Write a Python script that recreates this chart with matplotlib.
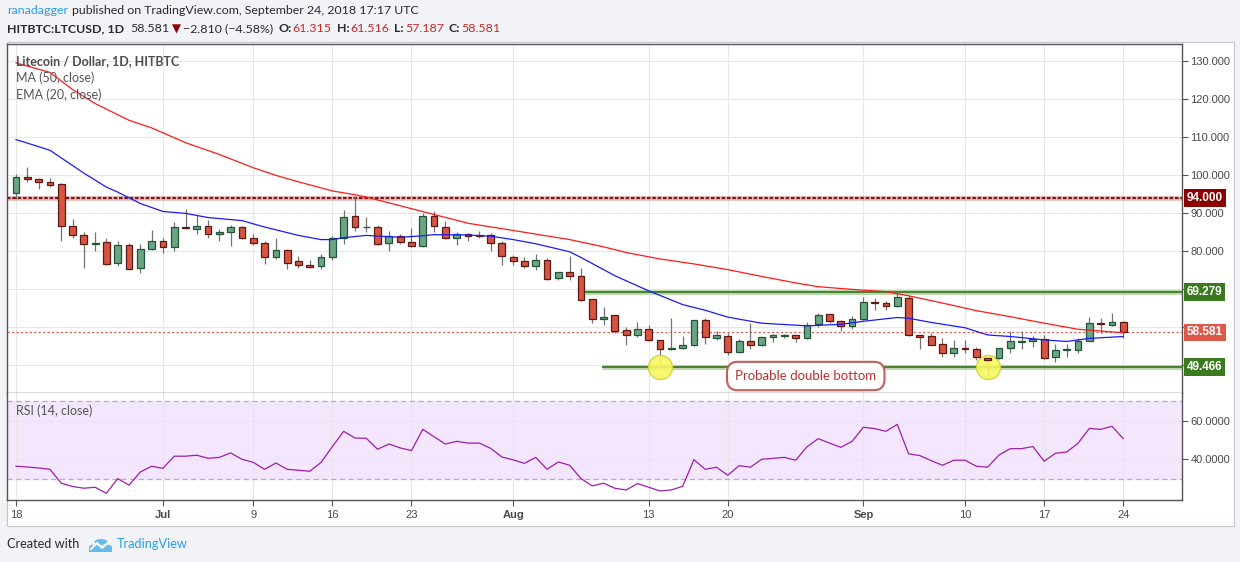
import matplotlib
matplotlib.use('Agg')
import matplotlib.pyplot as plt
from matplotlib.patches import Rectangle, Circle
import numpy as np
import pandas as pd

# HITBTC:LTCUSD daily candles, 18 Jun - 24 Sep 2018
start_date = '2018-06-18'
opens = [95.3, 99.5, 98.9, 98.2, 97.7, 86.6, 84.2, 81.8, 82.4, 76.8,
         81.6, 75.5, 80.5, 82.7, 81.0, 86.3, 85.8, 86.6, 84.5, 85.1,
         86.3, 83.4, 82.1, 78.4, 80.3, 77.4, 76.3, 76.05, 78.4, 83.4,
         89.3, 86.2, 86.3, 82.1, 83.9, 82.4, 81.3, 89.2, 86.3, 83.4,
         84.5, 84.2, 84.2, 82.1, 78.4, 77.4, 76.05, 77.6, 72.9, 74.5,
         73.4, 67.3, 62.0, 63.1, 59.1, 57.8, 59.4, 56.5, 54.1, 54.4,
         55.2, 61.75, 57.0, 57.5, 53.3, 56.2, 55.2, 57.3, 57.5, 57.8,
         57.0, 60.7, 63.3, 61.5, 60.2, 62.0, 66.6, 66.3, 65.4, 67.5,
         57.8, 57.5, 55.5, 53.1, 54.6, 54.1, 51.8, 51.75, 54.4, 56.05,
         56.3, 56.75, 52.0, 53.95, 53.95, 56.4, 61.0, 60.4, 61.315]
highs = [100.3, 102.0, 99.2, 99.3, 97.9, 88.5, 85.1, 85.1, 83.4, 82.5,
         82.1, 81.8, 85.6, 83.3, 87.7, 91.0, 89.5, 88.2, 85.8, 86.8,
         86.5, 84.5, 82.5, 83.4, 80.5, 78.7, 77.5, 79.3, 84.0, 90.9,
         94.3, 89.0, 86.9, 85.2, 84.6, 86.1, 90.0, 90.5, 88.0, 85.1,
         84.8, 85.3, 84.7, 82.5, 79.0, 78.5, 79.2, 78.2, 74.6, 78.7,
         75.6, 67.4, 65.3, 63.2, 59.9, 61.3, 60.4, 56.6, 62.3, 57.5,
         61.8, 62.3, 58.9, 58.5, 56.8, 61.0, 57.4, 58.2, 58.1, 57.9,
         61.3, 63.6, 63.5, 61.75, 62.8, 68.0, 67.5, 66.75, 69.3, 68.4,
         57.9, 58.5, 57.0, 56.6, 56.6, 54.65, 51.9, 54.5, 58.9, 58.9,
         57.7, 57.8, 55.5, 55.5, 57.0, 62.7, 62.3, 63.8, 61.516]
lows = [93.7, 98.1, 96.2, 96.8, 82.7, 83.3, 75.4, 79.9, 76.4, 76.1,
        75.1, 74.1, 80.3, 79.5, 79.9, 85.7, 84.4, 83.3, 82.5, 81.2,
        83.2, 81.7, 76.6, 77.8, 75.3, 75.5, 75.5, 75.2, 77.6, 81.8,
        85.2, 84.9, 81.6, 79.9, 81.9, 81.1, 81.0, 84.9, 83.2, 81.5,
        82.5, 83.3, 80.1, 76.2, 76.3, 75.5, 75.0, 72.4, 72.4, 72.4,
        66.8, 61.1, 60.4, 58.3, 55.2, 57.4, 56.4, 49.5, 54.0, 54.3,
        55.1, 55.4, 56.5, 52.6, 53.2, 54.1, 55.1, 56.0, 57.2, 56.1,
        56.8, 59.9, 61.0, 58.9, 59.4, 61.9, 64.4, 64.4, 65.3, 57.7,
        54.1, 55.2, 52.2, 52.2, 53.25, 51.3, 47.1, 51.7, 53.1, 54.1,
        54.65, 51.5, 50.7, 52.0, 53.1, 56.3, 58.3, 60.2, 57.187]
closes = [99.6, 98.9, 98.1, 97.4, 86.6, 84.2, 81.8, 82.2, 76.6, 81.6,
          75.3, 80.5, 82.6, 81.0, 86.3, 86.0, 86.6, 84.5, 85.1, 86.3,
          83.4, 82.1, 78.4, 80.3, 76.8, 76.3, 75.7, 78.4, 83.4, 89.0,
          86.2, 86.4, 81.9, 83.9, 82.3, 81.3, 89.2, 86.5, 83.3, 84.5,
          83.9, 83.9, 82.1, 78.7, 77.4, 76.05, 77.6, 72.5, 74.5, 73.4,
          67.2, 62.0, 62.7, 58.9, 57.8, 59.4, 56.5, 54.1, 54.4, 55.2,
          61.75, 57.3, 57.8, 53.3, 56.2, 55.2, 57.3, 57.8, 57.8, 57.0,
          60.4, 63.1, 61.5, 60.2, 62.0, 66.5, 66.2, 65.4, 67.8, 57.8,
          57.3, 55.35, 53.1, 54.4, 54.3, 52.0, 51.4, 54.4, 56.2, 56.3,
          56.8, 51.8, 53.9, 54.2, 56.4, 61.0, 60.7, 61.2, 58.581]

# MA (50) and EMA (20) as drawn, sampled at day offsets from start_date
ma50_days = [0, 3, 5, 7, 10, 12, 15, 18, 21, 23, 25, 28, 30, 31, 34, 37, 40,
             44, 49, 52, 54, 57, 60, 63, 66, 69, 71, 74, 77, 79, 82, 85, 88,
             91, 94, 97, 98]
ma50_vals = [129.5, 127.0, 122.5, 118.8, 114.4, 112.4, 108.5, 105.4, 101.9,
             99.9, 98.2, 95.8, 94.8, 94.2, 91.9, 89.6, 87.3, 85.4, 83.0, 81.1,
             79.6, 77.9, 76.6, 75.1, 73.3, 71.6, 70.6, 69.9, 69.3, 68.2, 66.3,
             64.3, 62.7, 61.0, 59.4, 58.7, 58.5]
ema20_days = [0, 1, 3, 6, 8, 9, 11, 13, 15, 17, 20, 22, 25, 27, 28, 29, 31,
              34, 36, 37, 40, 42, 44, 46, 49, 50, 53, 56, 59, 61, 63, 66, 70,
              73, 75, 78, 79, 81, 84, 86, 88, 91, 93, 95, 98]
ema20_vals = [109.3, 108.4, 106.5, 100.5, 96.8, 95.5, 92.5, 90.4, 89.9, 88.8,
              88.0, 86.3, 84.1, 83.0, 83.0, 83.5, 84.1, 83.6, 84.0, 84.3,
              84.2, 83.9, 83.0, 81.9, 79.8, 78.3, 73.5, 69.5, 65.9, 64.4,
              62.6, 61.0, 60.3, 60.7, 61.5, 62.5, 62.3, 61.2, 59.8, 57.9,
              57.5, 56.6, 56.2, 57.0, 57.5]

rsi_vals = [36.4, 36.0, 35.5, 34.8, 27.6, 25.9, 25.0, 25.5, 22.4, 30.0,
            26.6, 33.4, 36.4, 35.3, 41.6, 41.6, 42.1, 40.5, 41.0, 43.3,
            40.0, 38.4, 34.8, 38.1, 34.8, 34.3, 33.8, 38.4, 46.6, 54.5,
            51.0, 50.9, 45.2, 47.9, 45.9, 44.5, 55.5, 51.7, 47.9, 49.3,
            48.4, 48.4, 45.7, 41.2, 39.7, 37.9, 41.0, 34.8, 38.6, 36.9,
            30.0, 26.2, 27.6, 25.0, 24.1, 27.4, 25.5, 23.6, 24.1, 26.0,
            39.8, 34.8, 35.9, 31.7, 36.7, 35.9, 40.0, 40.5, 41.0, 39.5,
            46.4, 50.7, 48.4, 46.2, 49.3, 56.6, 55.9, 54.5, 58.1, 42.8,
            41.9, 39.3, 36.9, 39.5, 39.5, 36.4, 35.9, 42.2, 45.5, 45.5,
            46.6, 39.0, 43.1, 43.8, 48.3, 56.0, 55.5, 57.1, 50.7]

tick_dates = ['2018-06-18', '2018-07-01', '2018-07-09', '2018-07-16',
              '2018-07-23', '2018-08-01', '2018-08-13', '2018-08-20',
              '2018-09-01', '2018-09-10', '2018-09-17', '2018-09-24']
tick_labels = ['18', 'Jul', '9', '16', '23', 'Aug', '13', '20', 'Sep', '10', '17', '24']
price_ticks = [50, 60, 70, 80, 90, 100, 110, 120, 130]
rsi_ticks = [40, 60]

level_94 = 94.0
resistance = 69.279
support = 49.466
last_price = 58.581
bottom_days = [57, 86]

W, H = 1240, 562
FONT = ['Lato', 'DejaVu Sans']
AXFONT = 'Liberation Sans'


def fx(px):
    return px / W

def fy(py):
    return 1 - py / H


fig = plt.figure(figsize=(W / 100, H / 100), dpi=100, facecolor='#f1f3f6')
fig.add_artist(Rectangle((fx(7), fy(526)), fx(1234) - fx(7), fy(42) - fy(526),
                         transform=fig.transFigure, facecolor='white',
                         edgecolor='#c3c6cc', lw=0.8, zorder=0))

ax = fig.add_axes([fx(7), fy(393), fx(1182) - fx(7), fy(44) - fy(393)])
rsi_ax = fig.add_axes([fx(7), fy(500), fx(1182) - fx(7), fy(393) - fy(500)], sharex=ax)

days = np.arange(len(closes))
t0 = pd.Timestamp(start_date)
tick_x = [(pd.Timestamp(d) - t0).days for d in tick_dates]

for a in (ax, rsi_ax):
    a.set_facecolor('white')
    for s in a.spines.values():
        s.set_color('#555555')
        s.set_linewidth(1)
    a.set_axisbelow(True)
    a.grid(True, color='#e7e7e7', lw=0.8)
    a.yaxis.tick_right()
rsi_ax.spines['top'].set_visible(False)

# candles
o = np.array(opens)
c = np.array(closes)
up = c >= o
face = np.where(up, '#6ba583', '#d75442')
edge = np.where(up, '#225437', '#5b1a13')
ax.vlines(days, lows, highs, color='#737375', lw=0.9, zorder=3)
ax.bar(days, np.maximum(np.abs(c - o), 0.15), bottom=np.minimum(o, c), width=0.6,
       color=face, edgecolor=edge, lw=0.9, zorder=4)

# indicators
ax.plot(ma50_days, ma50_vals, color='#ff1a1a', lw=0.9, zorder=5)
ax.plot(ema20_days, ema20_vals, color='#1a1aff', lw=0.9, zorder=5)

# horizontal levels
ax.axhline(level_94, color='#d9a6a6', lw=3.4, alpha=0.7, zorder=2)
ax.axhline(level_94, color='#8b1212', lw=1.6, ls=(0, (1.6, 0.8)), zorder=2.1)
ax.hlines([resistance, support], [50.4, 51.9], 104, color='#a9cf98', lw=3.6, alpha=0.8, zorder=2)
ax.hlines([resistance, support], [50.4, 51.9], 104, color='#3e7b25', lw=1.3, zorder=2.1)
ax.axhline(last_price, color='#e0574a', lw=0.8, ls=(0, (2, 2)), zorder=2)

# double-bottom markers and note
ax.scatter(bottom_days, [support] * len(bottom_days), s=300, facecolor='#f7f760',
           edgecolor='#d2d23c', lw=1, alpha=0.9, zorder=3.5)
ax.text(69.9, 47.1, 'Probable double bottom', ha='center', va='center', fontsize=9.5,
        family=FONT, color='#b8312f', zorder=6,
        bbox=dict(boxstyle='round,pad=0.62,rounding_size=0.8', fc='white', ec='#c45e5e', lw=1.5))

ax.set_xlim(-0.8, 103.2)
ax.set_ylim(42.63, 134.47)
ax.set_xticks(tick_x)
ax.tick_params(axis='x', bottom=False, labelbottom=False)
ax.set_yticks(price_ticks)
ax.set_yticklabels(['' if p < 80 else f'{p:.3f}' for p in price_ticks])
ax.tick_params(axis='y', length=4, width=0.8, color='#555555', pad=2,
               labelsize=8, labelcolor='#4a4a4a')
for lab in ax.get_yticklabels():
    lab.set_family(AXFONT)

# price-axis labels
for val, col in [(level_94, '#8b0000'), (resistance, '#3b7a1f'),
                 (last_price, '#dd5a4a'), (support, '#3b7a1f')]:
    ax.annotate(f'{val:.3f}', xy=(1, val), xycoords=('axes fraction', 'data'),
                xytext=(5, 0), textcoords='offset pixels', va='center', ha='left',
                fontsize=8.5, weight='bold', family=AXFONT, color='white', zorder=10,
                annotation_clip=False,
                bbox=dict(boxstyle='square,pad=0.24', fc=col, ec='none'))

# legend text in the pane
leg = dict(va='center', ha='left', fontsize=9, family=FONT, zorder=10)
fig.text(fx(16), fy(61), 'Litecoin / Dollar, 1D, HITBTC', weight='bold', color='#4f4f4f', **leg)
fig.text(fx(16), fy(78), 'MA (50, close)', color='#555555', **leg)
fig.text(fx(16), fy(95), 'EMA (20, close)', color='#555555', **leg)

# RSI pane
rsi_ax.axhspan(30, 70, color='#f3e6fd', zorder=0)
rsi_ax.axhline(70, color='#b5aebd', lw=0.9, ls=(0, (4, 3)), zorder=1)
rsi_ax.axhline(30, color='#b5aebd', lw=0.9, ls=(0, (4, 3)), zorder=1)
rsi_ax.plot(days, rsi_vals, color='#9c1fab', lw=0.9, zorder=3)
rsi_ax.set_ylim(18.9, 74.35)
rsi_ax.set_yticks(rsi_ticks)
rsi_ax.set_yticklabels([f'{v:.4f}' for v in rsi_ticks])
rsi_ax.tick_params(axis='y', length=4, width=0.8, color='#555555', pad=2,
                   labelsize=8, labelcolor='#4a4a4a')
rsi_ax.set_xticks(tick_x)
rsi_ax.set_xticklabels(tick_labels)
rsi_ax.tick_params(axis='x', length=4, width=0.8, color='#555555', pad=3,
                   labelsize=8, labelcolor='#4a4a4a')
for lab in rsi_ax.get_xticklabels() + rsi_ax.get_yticklabels():
    lab.set_family(AXFONT)
    if lab.get_text() in ('Jul', 'Aug', 'Sep'):
        lab.set_weight('bold')
fig.text(fx(16), fy(411), 'RSI (14, close)', color='#555555', **leg)

# header lines
renderer = fig.canvas.get_renderer()

def text_run(x, y, pieces):
    for s, kw, gap in pieces:
        t = fig.text(fx(x), fy(y), s, va='center', ha='left', **kw)
        x += t.get_window_extent(renderer).width + gap

base = dict(fontsize=8.9, family=FONT, color='#2a2a2a')
bold = dict(base, weight='bold')
red = dict(base, color='#c62828')
text_run(7, 10, [('ranadagger', dict(base, color='#2d9ce6'), 4),
                 ('published on TradingView.com, September 24, 2018 17:17 UTC', base, 0)])
text_run(7, 29, [('HITBTC:LTCUSD, 1D', bold, 6), ('58.581', base, 3),
                 ('\u25bc', dict(base, color='#8b0000', family='DejaVu Sans', fontsize=8.5), 2),
                 ('\u22122.810 (\u22124.58%)', base, 5),
                 ('O:', bold, 1), ('61.315', red, 5), ('H:', bold, 1), ('61.516', red, 5),
                 ('L:', bold, 1), ('57.187', red, 5), ('C:', bold, 1), ('58.581', red, 0)])

# footer
fig.text(fx(7), fy(544), 'Created with', va='center', ha='left', fontsize=9.2,
         family=FONT, color='#2a2a2a')
cloud = '#66bbe9'
for cx, cy, r in [(94, 547, 5), (101, 542, 6.5), (107, 547, 5)]:
    fig.add_artist(Circle((fx(cx), fy(cy)), r / W, transform=fig.transFigure,
                          facecolor=cloud, edgecolor='none'))
fig.add_artist(Rectangle((fx(89), fy(552)), fx(112) - fx(89), fy(547) - fy(552),
                         transform=fig.transFigure, facecolor=cloud, edgecolor='none'))
fig.add_artist(plt.Line2D([fx(91), fx(97), fx(102), fx(110)], [fy(549), fy(543), fy(548), fy(541)],
                          transform=fig.transFigure, color='white', lw=1.4))
fig.text(fx(117), fy(544), 'TradingView', va='center', ha='left', fontsize=9.2,
         family=FONT, color='#2d9ce6')

fig.savefig('out.png', dpi=100, facecolor=fig.get_facecolor())
